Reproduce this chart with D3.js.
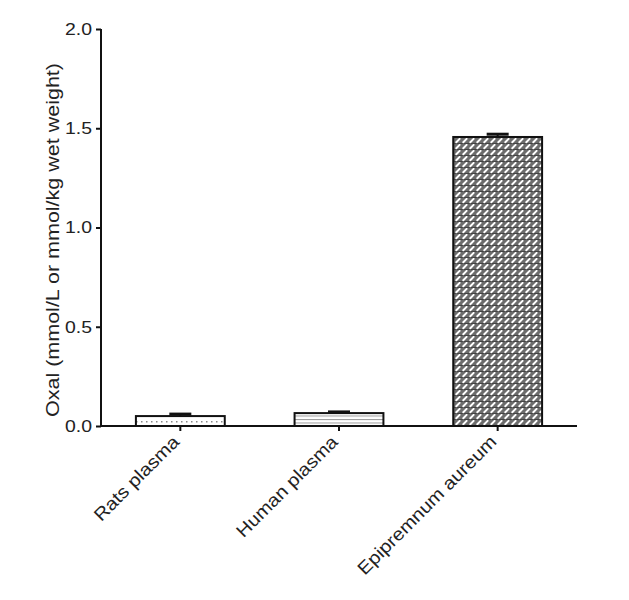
<!DOCTYPE html>
<html>
<head>
<meta charset="utf-8">
<script src="https://cdn.jsdelivr.net/npm/d3@7/dist/d3.min.js"></script>
<style>
  html, body { margin: 0; padding: 0; background: #fff; }
  svg { display: block; }
  text { font-family: "Liberation Sans", Arial, sans-serif; fill: #222; }
</style>
</head>
<body>
<svg id="chart" width="629" height="600"></svg>
<script>
const categories = ["Rats plasma", "Human plasma", "Epipremnum aureum"];
const values = [0.05, 0.065, 1.456];
const errors = [0.01, 0.006, 0.014];
const patterns = ["dots", "hlines", "hatch"];
const yTicks = [0, 0.5, 1.0, 1.5, 2.0];
const yLabel = "Oxal (mmol/L or mmol/kg wet weight)";

(function () {
const svg = d3.select("#chart");
const mLeft = 101, mRight = 577, mTop = 29, mBottom = 426;
const FONT = '"Liberation Sans", Arial, sans-serif';

const x = d3.scaleBand().domain(categories).range([mLeft, mRight])
  .paddingInner(0.44).paddingOuter(0.22);
const y = d3.scaleLinear().domain([0, 2]).range([mBottom, mTop]);

const defs = svg.append("defs");
// dotted pattern
const pd = defs.append("pattern").attr("id", "dots").attr("patternUnits", "userSpaceOnUse")
  .attr("x", 0).attr("y", 421).attr("width", 5).attr("height", 9);
pd.append("rect").attr("width", 5).attr("height", 9).attr("fill", "#fff");
pd.append("rect").attr("x", 1).attr("y", 0).attr("width", 1.5).attr("height", 1.5).attr("fill", "#888");
// horizontal lines
const ph = defs.append("pattern").attr("id", "hlines").attr("patternUnits", "userSpaceOnUse")
  .attr("x", 0).attr("y", 419).attr("width", 10).attr("height", 3.5);
ph.append("rect").attr("width", 10).attr("height", 3.5).attr("fill", "#fff");
ph.append("rect").attr("y", 0).attr("width", 10).attr("height", 1).attr("fill", "#999");
// diagonal crosshatch: rows of short white dashes on grey
const pc = defs.append("pattern").attr("id", "hatch").attr("patternUnits", "userSpaceOnUse")
  .attr("width", 7).attr("height", 6);
pc.append("rect").attr("width", 7).attr("height", 6).attr("fill", "#6c6c6c");
pc.append("rect").attr("x", 0).attr("y", 5).attr("width", 7).attr("height", 1).attr("fill", "#444");
pc.append("line").attr("x1", 1.3).attr("y1", 4.2).attr("x2", 4.6).attr("y2", 0.9)
  .attr("stroke", "#fff").attr("stroke-width", 2).attr("stroke-linecap", "round");

// bars
const data = categories.map((c, i) => ({ c, v: values[i], e: errors[i], p: patterns[i] }));
const g = svg.append("g");
g.selectAll("rect.bar").data(data).join("rect")
  .attr("class", "bar")
  .attr("x", d => x(d.c))
  .attr("y", d => y(d.v))
  .attr("width", x.bandwidth())
  .attr("height", d => y(0) - y(d.v))
  .attr("fill", d => `url(#${d.p})`)
  .attr("stroke", "#111").attr("stroke-width", 2);

// error bars (upper only)
g.selectAll("line.err").data(data).join("line")
  .attr("class", "err")
  .attr("x1", d => x(d.c) + x.bandwidth() / 2).attr("x2", d => x(d.c) + x.bandwidth() / 2)
  .attr("y1", d => y(d.v)).attr("y2", d => y(d.v + d.e))
  .attr("stroke", "#111").attr("stroke-width", 2);
g.selectAll("line.cap").data(data).join("line")
  .attr("class", "cap")
  .attr("x1", d => x(d.c) + x.bandwidth() / 2 - 11).attr("x2", d => x(d.c) + x.bandwidth() / 2 + 11)
  .attr("y1", d => y(d.v + d.e)).attr("y2", d => y(d.v + d.e))
  .attr("stroke", "#111").attr("stroke-width", 3);

// y axis
const yAxis = svg.append("g").attr("transform", `translate(${mLeft},0)`)
  .call(d3.axisLeft(y).tickValues(yTicks).tickFormat(d3.format(".1f")).tickSize(5).tickPadding(4));
yAxis.select(".domain").attr("d", `M0,${mTop}V${mBottom}`).attr("stroke", "#111").attr("stroke-width", 2);
yAxis.selectAll(".tick line").attr("stroke", "#111").attr("stroke-width", 2);
yAxis.selectAll(".tick text").attr("font-size", 17).attr("fill", "#2a2a2a")
  .style("font-family", FONT)
  .attr("textLength", 27).attr("lengthAdjust", "spacingAndGlyphs");

// x axis
const xAxis = svg.append("g").attr("transform", `translate(0,${mBottom})`)
  .call(d3.axisBottom(x).tickSize(5).tickPadding(6));
xAxis.select(".domain").attr("d", `M${mLeft},0H${mRight}`).attr("stroke", "#111").attr("stroke-width", 2);
xAxis.selectAll(".tick line").attr("stroke", "#111").attr("stroke-width", 2);
const xLens = { "Rats plasma": 112, "Human plasma": 135, "Epipremnum aureum": 188 };
xAxis.selectAll(".tick text").attr("font-size", 18).attr("fill", "#2a2a2a")
  .style("font-family", FONT)
  .attr("text-anchor", "end")
  .attr("x", 0).attr("y", 0).attr("dy", 0)
  .attr("textLength", d => xLens[d]).attr("lengthAdjust", "spacingAndGlyphs")
  .attr("transform", "translate(0,17) rotate(-45)");

// y label
svg.append("text")
  .attr("transform", `translate(59,240) rotate(-90)`)
  .attr("text-anchor", "middle")
  .attr("font-size", 18)
  .attr("fill", "#2a2a2a")
  .attr("textLength", 354).attr("lengthAdjust", "spacingAndGlyphs")
  .text(yLabel);
})();
</script>
</body>
</html>
